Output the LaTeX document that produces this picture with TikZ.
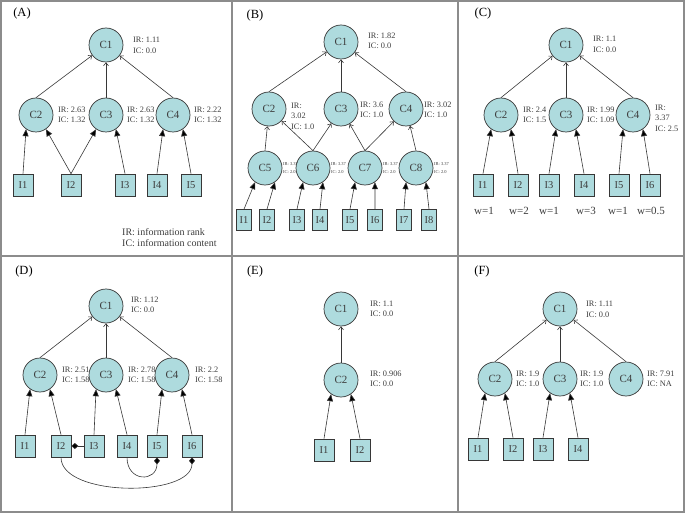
\documentclass[tikz,border=0pt]{standalone}
\usepackage{fontspec}
\setmainfont{Liberation Serif}
\usetikzlibrary{arrows.meta}
\definecolor{nodecyan}{RGB}{174,219,222}
\definecolor{linegray}{RGB}{55,55,55}
\definecolor{framegray}{RGB}{140,140,140}
\definecolor{textgray}{RGB}{60,60,60}

\begin{document}
\begin{tikzpicture}[x=1pt,y=-1pt,
    cnode/.style={circle,draw=linegray,fill=nodecyan,minimum size=34pt,inner sep=0pt,line width=0.7pt,text=textgray,font=\fontsize{11}{13}\selectfont},
    inode/.style={rectangle,draw=linegray,fill=nodecyan,minimum width=20pt,minimum height=22pt,inner sep=0pt,line width=0.7pt,text=textgray,font=\fontsize{10.5}{12}\selectfont},
    ismall/.style={inode,minimum width=15pt,minimum height=21pt},
    info/.style={anchor=west,align=left,inner sep=0pt,text=textgray,font=\fontsize{8.3}{10.5}\selectfont},
    tinyinfo/.style={info,font=\fontsize{4.5}{8}\selectfont},
    legend/.style={info,font=\fontsize{10}{11}\selectfont},
    tag/.style={inner sep=0pt,font=\fontsize{12.5}{14}\selectfont},
    weight/.style={inner sep=0pt,text=textgray,font=\fontsize{11}{13}\selectfont},
    toparent/.style={draw=linegray,line width=0.6pt,-{Straight Barb[length=3pt,width=5pt]}},
    toconcept/.style={draw=linegray,line width=0.6pt,-{Triangle[length=7pt,width=6pt,fill=black]}},
    tielink/.style={draw=linegray,line width=0.6pt,-{Diamond[length=7pt,width=6pt,fill=black]}}]
  \useasboundingbox (0,0) rectangle (685,513);
  \draw[framegray,line width=1.3pt] (1,1) rectangle (684,512);
  \draw[framegray,line width=1.3pt] (232,1) -- (232,512) (458,1) -- (458,512) (1,256) -- (684,256);

  % (A)
  \node[tag] (A-tag) at (22,13) {(A)};
  \node[cnode] (A-C1) at (106,45) {C1};
  \node[cnode] (A-C2) at (36,115) {C2};
  \node[cnode] (A-C3) at (106,115) {C3};
  \node[cnode] (A-C4) at (173,115) {C4};
  \node[inode] (A-I1) at (23,185) {I1};
  \node[inode] (A-I2) at (71,185) {I2};
  \node[inode] (A-I3) at (125,185) {I3};
  \node[inode] (A-I4) at (157,185) {I4};
  \node[inode] (A-I5) at (191,185) {I5};
  \node[info] (A-L1) at (133,45.5) {IR: 1.11\\IC: 0.0};
  \node[info] (A-L2) at (58,115) {IR: 2.63\\IC: 1.32};
  \node[info] (A-L3) at (127,115) {IR: 2.63\\IC: 1.32};
  \node[info] (A-L4) at (194,115) {IR: 2.22\\IC: 1.32};
  \node[legend] (A-key) at (122,237.5) {IR: information rank\\IC: information content};
  \draw[toparent] (A-C2.north) -- (A-C1);
  \draw[toparent] (A-C3.north) -- (A-C1);
  \draw[toparent] (A-C4.north) -- (A-C1);
  \draw[toconcept] (A-I1.north) -- (A-C2.235);
  \draw[toconcept] (A-I2.north) -- (A-C2.305);
  \draw[toconcept] (A-I2.north) -- (A-C3.235);
  \draw[toconcept] (A-I3.north) -- (A-C3.305);
  \draw[toconcept] (A-I4.north) -- (A-C4.235);
  \draw[toconcept] (A-I5.north) -- (A-C4.305);

  % (B)
  \node[tag] (B-tag) at (255,15) {(B)};
  \node[cnode] (B-C1) at (341,42) {C1};
  \node[cnode] (B-C2) at (269,109) {C2};
  \node[cnode] (B-C3) at (341,109) {C3};
  \node[cnode] (B-C4) at (406,109) {C4};
  \node[cnode] (B-C5) at (265,168) {C5};
  \node[cnode] (B-C6) at (313,168) {C6};
  \node[cnode] (B-C7) at (365,168) {C7};
  \node[cnode] (B-C8) at (416,168) {C8};
  \node[ismall] (B-I1) at (244,220) {I1};
  \node[ismall] (B-I2) at (267,220) {I2};
  \node[ismall] (B-I3) at (297,220) {I3};
  \node[ismall] (B-I4) at (320,220) {I4};
  \node[ismall] (B-I5) at (350,220) {I5};
  \node[ismall] (B-I6) at (375,220) {I6};
  \node[ismall] (B-I7) at (404,220) {I7};
  \node[ismall] (B-I8) at (429,220) {I8};
  \node[info] (B-L1) at (368,41) {IR: 1.82\\IC: 0.0};
  \node[info] (B-L2) at (291,116) {IR:\\3.02\\IC: 1.0};
  \node[info] (B-L3) at (360,110) {IR: 3.6\\IC: 1.0};
  \node[info] (B-L4) at (424,110) {IR: 3.02\\IC: 1.0};
  \node[tinyinfo] (B-L5) at (283,168) {IR: 3.37\\IC: 2.0};
  \node[tinyinfo] (B-L6) at (331,168) {IR: 3.37\\IC: 2.0};
  \node[tinyinfo] (B-L7) at (383,168) {IR: 3.37\\IC: 2.0};
  \node[tinyinfo] (B-L8) at (434,168) {IR: 3.37\\IC: 2.0};
  \draw[toparent] (B-C2.north) -- (B-C1);
  \draw[toparent] (B-C3.north) -- (B-C1);
  \draw[toparent] (B-C4.north) -- (B-C1);
  \draw[toparent] (B-C5.north) -- (B-C2);
  \draw[toparent] (B-C6.north) -- (B-C2);
  \draw[toparent] (B-C6.north) -- (B-C3);
  \draw[toparent] (B-C7.north) -- (B-C3);
  \draw[toparent] (B-C7.north) -- (B-C4);
  \draw[toparent] (B-C8.north) -- (B-C4);
  \draw[toconcept] (B-I1.north) -- (B-C5.235);
  \draw[toconcept] (B-I2.north) -- (B-C5.305);
  \draw[toconcept] (B-I3.north) -- (B-C6.235);
  \draw[toconcept] (B-I4.north) -- (B-C6.305);
  \draw[toconcept] (B-I5.north) -- (B-C7.235);
  \draw[toconcept] (B-I6.north) -- (B-C7.305);
  \draw[toconcept] (B-I7.north) -- (B-C8.235);
  \draw[toconcept] (B-I8.north) -- (B-C8.305);

  % (C)
  \node[tag] (C-tag) at (483,13) {(C)};
  \node[cnode] (C-C1) at (566,45) {C1};
  \node[cnode] (C-C2) at (501,115) {C2};
  \node[cnode] (C-C3) at (566,115) {C3};
  \node[cnode] (C-C4) at (633,115) {C4};
  \node[inode] (C-I1) at (483,185) {I1};
  \node[inode] (C-I2) at (518,185) {I2};
  \node[inode] (C-I3) at (549,185) {I3};
  \node[inode] (C-I4) at (584,185) {I4};
  \node[inode] (C-I5) at (619,185) {I5};
  \node[inode] (C-I6) at (650,185) {I6};
  \node[weight] (C-w1) at (484,211) {w=1};
  \node[weight] (C-w2) at (519,211) {w=2};
  \node[weight] (C-w3) at (549,211) {w=1};
  \node[weight] (C-w4) at (586,211) {w=3};
  \node[weight] (C-w5) at (618,211) {w=1};
  \node[weight] (C-w6) at (651,211) {w=0.5};
  \node[info] (C-L1) at (593,44.5) {IR: 1.1\\IC: 0.0};
  \node[info] (C-L2) at (523,115) {IR: 2.4\\IC: 1.5};
  \node[info] (C-L3) at (587,115) {IR: 1.99\\IC: 1.09};
  \node[info] (C-L4) at (655,118) {IR:\\3.37\\IC: 2.5};
  \draw[toparent] (C-C2.north) -- (C-C1);
  \draw[toparent] (C-C3.north) -- (C-C1);
  \draw[toparent] (C-C4.north) -- (C-C1);
  \draw[toconcept] (C-I1.north) -- (C-C2.235);
  \draw[toconcept] (C-I2.north) -- (C-C2.305);
  \draw[toconcept] (C-I3.north) -- (C-C3.235);
  \draw[toconcept] (C-I4.north) -- (C-C3.305);
  \draw[toconcept] (C-I5.north) -- (C-C4.235);
  \draw[toconcept] (C-I6.north) -- (C-C4.305);

  % (D)
  \node[tag] (D-tag) at (24,271) {(D)};
  \node[cnode] (D-C1) at (106,306) {C1};
  \node[cnode] (D-C2) at (40,375) {C2};
  \node[cnode] (D-C3) at (106,375) {C3};
  \node[cnode] (D-C4) at (172,375) {C4};
  \node[inode] (D-I1) at (25,446) {I1};
  \node[inode] (D-I2) at (61,446) {I2};
  \node[inode] (D-I3) at (94,446) {I3};
  \node[inode] (D-I4) at (127,446) {I4};
  \node[inode] (D-I5) at (157,446) {I5};
  \node[inode] (D-I6) at (192,446) {I6};
  \node[info] (D-L1) at (131,305) {IR: 1.12\\IC: 0.0};
  \node[info] (D-L2) at (62,375) {IR: 2.51\\IC: 1.58};
  \node[info] (D-L3) at (128,375) {IR: 2.78\\IC: 1.58};
  \node[info] (D-L4) at (195,375) {IR: 2.2\\IC: 1.58};
  \draw[toparent] (D-C2.north) -- (D-C1);
  \draw[toparent] (D-C3.north) -- (D-C1);
  \draw[toparent] (D-C4.north) -- (D-C1);
  \draw[toconcept] (D-I1.north) -- (D-C2.235);
  \draw[toconcept] (D-I2.north) -- (D-C2.305);
  \draw[toconcept] (D-I3.north) -- (D-C3.235);
  \draw[toconcept] (D-I4.north) -- (D-C3.305);
  \draw[toconcept] (D-I5.north) -- (D-C4.235);
  \draw[toconcept] (D-I6.north) -- (D-C4.305);
  \draw[tielink] (D-I3) -- (D-I2);
  \draw[tielink] (D-I4.south) .. controls +(0,25) and +(0,25) .. (D-I5.south);
  \draw[tielink] (D-I2.south) .. controls +(0,40) and +(0,40) .. (D-I6.south);

  % (E)
  \node[tag] (E-tag) at (255,271) {(E)};
  \node[cnode] (E-C1) at (341,309) {C1};
  \node[cnode] (E-C2) at (341,380) {C2};
  \node[inode] (E-I1) at (324,450) {I1};
  \node[inode] (E-I2) at (360,450) {I2};
  \node[info] (E-L1) at (370,309) {IR: 1.1\\IC: 0.0};
  \node[info] (E-L2) at (370,379) {IR: 0.906\\IC: 0.0};
  \draw[toparent] (E-C2.north) -- (E-C1);
  \draw[toconcept] (E-I1.north) -- (E-C2.235);
  \draw[toconcept] (E-I2.north) -- (E-C2.305);

  % (F)
  \node[tag] (F-tag) at (482,271) {(F)};
  \node[cnode] (F-C1) at (560,309) {C1};
  \node[cnode] (F-C2) at (495,379) {C2};
  \node[cnode] (F-C3) at (560,379) {C3};
  \node[cnode] (F-C4) at (626,379) {C4};
  \node[inode] (F-I1) at (478,449) {I1};
  \node[inode] (F-I2) at (513,449) {I2};
  \node[inode] (F-I3) at (543,449) {I3};
  \node[inode] (F-I4) at (578,449) {I4};
  \node[info] (F-L1) at (586,309.5) {IR: 1.11\\IC: 0.0};
  \node[info] (F-L2) at (516,379) {IR: 1.9\\IC: 1.0};
  \node[info] (F-L3) at (580,379) {IR: 1.9\\IC: 1.0};
  \node[info] (F-L4) at (647,379) {IR: 7.91\\IC: NA};
  \draw[toparent] (F-C2.north) -- (F-C1);
  \draw[toparent] (F-C3.north) -- (F-C1);
  \draw[toparent] (F-C4.north) -- (F-C1);
  \draw[toconcept] (F-I1.north) -- (F-C2.235);
  \draw[toconcept] (F-I2.north) -- (F-C2.305);
  \draw[toconcept] (F-I3.north) -- (F-C3.235);
  \draw[toconcept] (F-I4.north) -- (F-C3.305);
\end{tikzpicture}
\end{document}
